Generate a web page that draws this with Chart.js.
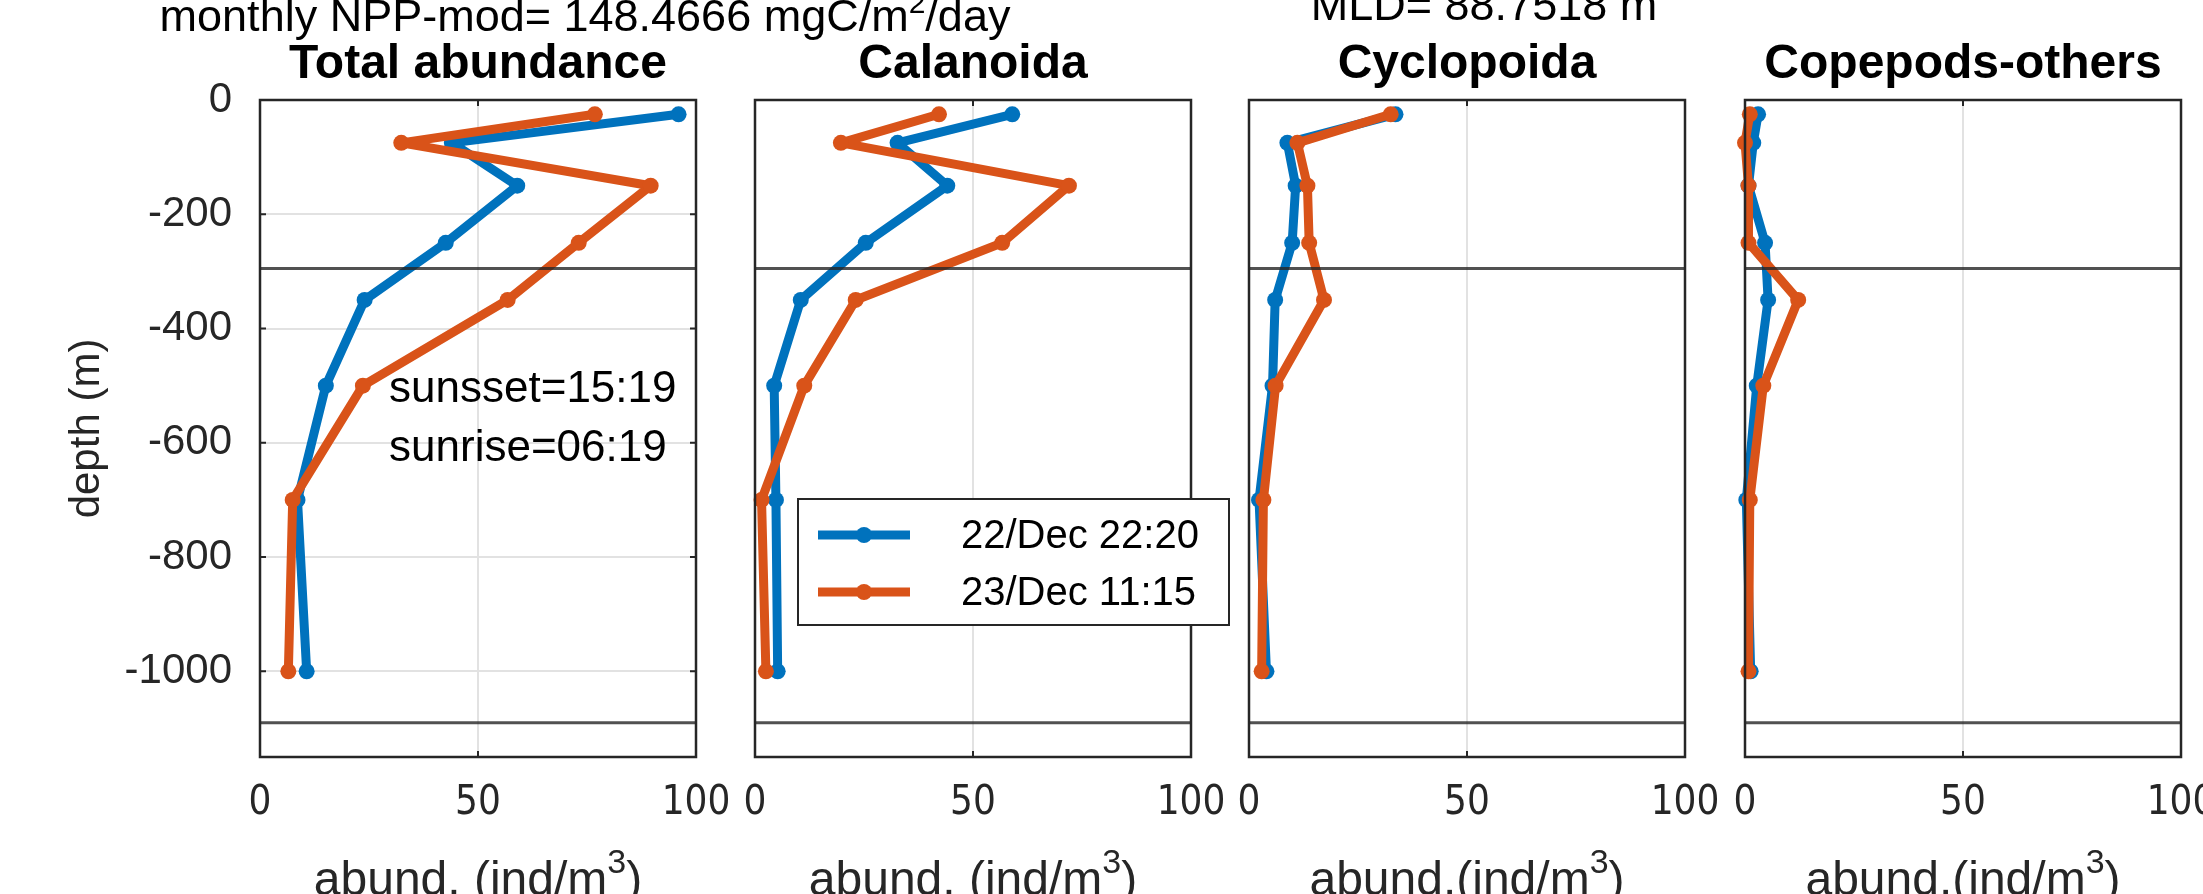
<!DOCTYPE html>
<html>
<head>
<meta charset="utf-8">
<script src="https://cdn.jsdelivr.net/npm/chart.js@4.4.1/dist/chart.umd.min.js"></script>
<style>
  html, body { margin: 0; padding: 0; background: #fff; overflow: hidden; }
  #wrap { position: relative; width: 2203px; height: 894px; overflow: hidden; background: #fff; }
  #wrap canvas { position: absolute; left: 0; top: 0; }
</style>
</head>
<body>
<div id="wrap">
  <canvas id="panel0" width="2300" height="894"></canvas>
  <canvas id="panel1" width="2300" height="894"></canvas>
  <canvas id="panel2" width="2300" height="894"></canvas>
  <canvas id="panel3" width="2300" height="894"></canvas>
</div>
<script>
// ── Data ─────────────────────────────────────────────────────
const depths = [-25, -75, -150, -250, -350, -500, -700, -1000];
const seriesLabels = ['22/Dec 22:20', '23/Dec 11:15'];
const panelTitles = ['Total abundance', 'Calanoida', 'Cyclopoida', 'Copepods-others'];
const xLabelTexts = ['abund. (ind/m', 'abund. (ind/m', 'abund.(ind/m', 'abund.(ind/m'];

const totalDec22      = [96, 44, 59, 42.6, 24, 15.1, 8.6, 10.7];
const totalDec23      = [76.8, 32.4, 89.6, 73.1, 56.8, 23.6, 7.5, 6.5];
const calanoidaDec22  = [59, 32.7, 44.1, 25.4, 10.5, 4.4, 4.8, 5.2];
const calanoidaDec23  = [42.2, 19.7, 72, 56.7, 23.1, 11.3, 1.5, 2.5];
const cyclopoidaDec22 = [33.6, 8.8, 10.7, 9.9, 6, 5.4, 2.3, 4];
const cyclopoidaDec23 = [32.5, 11.1, 13.4, 13.8, 17.2, 6.1, 3.3, 2.9];
const othersDec22     = [3, 1.9, 0.8, 4.6, 5.3, 2.7, 0.3, 1.3];
const othersDec23     = [1.1, 0, 0.8, 0.8, 12.2, 4.2, 1.1, 0.8];

const xTicks = [0, 50, 100];
const yTicks = [-1000, -800, -600, -400, -200, 0];
const refDepths = [-295, -1090];

const nppText = ['monthly NPP-mod= 148.4666 mgC/m', '2', '/day'];
const mldText = 'MLD= 88.7518 m';
const sunLines = ['sunsset=15:19', 'sunrise=06:19'];

const panelSeries = [
  [totalDec22, totalDec23],
  [calanoidaDec22, calanoidaDec23],
  [cyclopoidaDec22, cyclopoidaDec23],
  [othersDec22, othersDec23],
];

// ── Look ─────────────────────────────────────────────────────
const COLORS = ['#0072BD', '#D95319'];
const FONT   = "'Liberation Sans', Arial, Helvetica, sans-serif";
const NARROW = "'Liberation Sans Narrow', 'DejaVu Sans Condensed', 'Liberation Sans', sans-serif";
const INK    = '#262626';

const CANVAS_W = 2300;
const CANVAS_H = 894;
const PANEL_LEFT = [260, 755, 1249, 1745];
const PANEL_W = 436;
const PLOT_BOTTOM = 757;

Chart.defaults.font.family = FONT;
Chart.defaults.color = INK;

// draws text pieces where every odd piece is a superscript
function drawSupText(ctx, parts, cx, baseline, size, supSize, rise) {
  const widths = parts.map((p, i) => {
    ctx.font = `${i % 2 ? supSize : size}px ${FONT}`;
    return ctx.measureText(p).width;
  });
  let x = cx - widths.reduce((a, b) => a + b, 0) / 2;
  ctx.textAlign = 'left';
  ctx.textBaseline = 'alphabetic';
  parts.forEach((p, i) => {
    ctx.font = `${i % 2 ? supSize : size}px ${FONT}`;
    ctx.fillText(p, x, i % 2 ? baseline - rise : baseline);
    x += widths[i];
  });
}

// ── Frame, reference lines, annotations ──────────────────────
const panelDecor = {
  id: 'panelDecor',
  afterDatasetsDraw(chart, args, opts) {
    const { ctx, chartArea: a, scales: { x, y } } = chart;
    ctx.save();
    ctx.strokeStyle = 'rgba(38,38,38,0.8)';
    ctx.lineWidth = 3;
    refDepths.forEach((d) => {
      const py = y.getPixelForValue(d);
      ctx.beginPath();
      ctx.moveTo(a.left, py);
      ctx.lineTo(a.right, py);
      ctx.stroke();
    });

    ctx.strokeStyle = INK;
    ctx.lineWidth = 2.5;
    ctx.strokeRect(a.left, a.top, a.right - a.left, a.bottom - a.top);

    // inward tick marks
    ctx.lineWidth = 2;
    const tl = 6;
    x.ticks.forEach((t) => {
      const px = x.getPixelForValue(t.value);
      ctx.beginPath();
      ctx.moveTo(px, a.bottom); ctx.lineTo(px, a.bottom - tl);
      ctx.moveTo(px, a.top);    ctx.lineTo(px, a.top + tl);
      ctx.stroke();
    });
    if (opts.yTickMarks) {
      y.ticks.forEach((t) => {
        const py = y.getPixelForValue(t.value);
        ctx.beginPath();
        ctx.moveTo(a.left, py);  ctx.lineTo(a.left + tl, py);
        ctx.moveTo(a.right, py); ctx.lineTo(a.right - tl, py);
        ctx.stroke();
      });
    }
    ctx.restore();
  },
  afterDraw(chart, args, opts) {
    const { ctx, chartArea: a, scales: { x } } = chart;
    ctx.save();
    ctx.fillStyle = INK;

    // x axis label with superscript (cut by the page bottom, as in the original)
    drawSupText(ctx, [opts.xLabel, '3', ')'], (a.left + a.right) / 2, 895, 48, 34, 22);

    if (opts.npp) {
      ctx.fillStyle = '#000';
      drawSupText(ctx, nppText, 585, 31, 45, 30, 18);
    }
    if (opts.mld) {
      ctx.fillStyle = '#000';
      ctx.font = `45px ${FONT}`;
      ctx.textAlign = 'center';
      ctx.textBaseline = 'alphabetic';
      ctx.fillText(mldText, 1484, 20);
    }
    if (opts.sun) {
      ctx.fillStyle = '#000';
      ctx.font = `44px ${FONT}`;
      ctx.textAlign = 'left';
      ctx.textBaseline = 'alphabetic';
      const tx = x.getPixelForValue(29.6);
      ctx.fillText(sunLines[0], tx, 402);
      ctx.fillText(sunLines[1], tx, 461);
    }
    if (opts.legend) {
      const lx = a.left + 43, ly = 499, lw = 431, lh = 126;
      ctx.fillStyle = '#fff';
      ctx.fillRect(lx, ly, lw, lh);
      ctx.strokeStyle = INK;
      ctx.lineWidth = 2;
      ctx.strokeRect(lx, ly, lw, lh);
      const rows = [ly + 36, ly + 93];
      chart.data.datasets
        .slice()
        .sort((p, q) => p.seriesIndex - q.seriesIndex)
        .forEach((ds, i) => {
          const ry = rows[i];
          ctx.strokeStyle = ds.borderColor;
          ctx.lineWidth = 9;
          ctx.beginPath();
          ctx.moveTo(lx + 20, ry);
          ctx.lineTo(lx + 112, ry);
          ctx.stroke();
          ctx.fillStyle = ds.borderColor;
          ctx.beginPath();
          ctx.arc(lx + 66, ry, 8, 0, Math.PI * 2);
          ctx.fill();
          ctx.fillStyle = '#000';
          ctx.font = `40px ${FONT}`;
          ctx.textAlign = 'left';
          ctx.textBaseline = 'middle';
          ctx.fillText(ds.label, lx + 163, ry + 2);
        });
    }
    ctx.restore();
  },
};

// ── One panel ────────────────────────────────────────────────
function createPanel(i) {
  const canvas = document.getElementById('panel' + i);
  const first = i === 0;
  const left = PANEL_LEFT[i];

  const datasets = panelSeries[i].map((values, s) => ({
    label: seriesLabels[s],
    seriesIndex: s,
    data: depths.map((d, k) => ({ x: values[k], y: d })),
    showLine: true,
    borderColor: COLORS[s],
    backgroundColor: COLORS[s],
    borderWidth: 9,
    borderJoinStyle: 'round',
    borderCapStyle: 'round',
    pointRadius: 8,
    pointHoverRadius: 8,
    pointBorderWidth: 0,
    tension: 0,
    clip: false,
    order: s === 1 ? 0 : 1,
  }));

  return new Chart(canvas.getContext('2d'), {
    type: 'scatter',
    data: { datasets },
    options: {
      responsive: false,
      animation: false,
      events: [],
      layout: {
        padding: { left: first ? 0 : left, right: CANVAS_W - left - PANEL_W, top: 0, bottom: 0 },
      },
      plugins: {
        legend: { display: false },
        tooltip: { enabled: false },
        title: {
          display: true,
          text: panelTitles[i],
          fullSize: false,
          color: '#000',
          font: { family: FONT, size: 48, weight: 'bold' },
          padding: { top: 36, bottom: 6.4 },
        },
        panelDecor: {
          xLabel: xLabelTexts[i],
          yTickMarks: first,
          npp: first,
          sun: first,
          legend: i === 1,
          mld: i === 2,
        },
      },
      scales: {
        x: {
          type: 'linear',
          min: 0,
          max: 100,
          afterBuildTicks: (axis) => { axis.ticks = xTicks.map((v) => ({ value: v })); },
          afterFit: (axis) => { axis.height = CANVAS_H - PLOT_BOTTOM; },
          border: { display: false },
          grid: { color: '#e2e2e2', lineWidth: 2, drawTicks: false },
          ticks: {
            color: INK,
            font: { family: NARROW, size: 40 },
            padding: 23,
            maxRotation: 0,
            autoSkip: false,
            callback: (v) => String(v),
          },
        },
        y: {
          type: 'linear',
          display: first,
          min: -1150,
          max: 0,
          afterBuildTicks: (axis) => { axis.ticks = yTicks.map((v) => ({ value: v })); },
          afterFit: (axis) => { axis.width = first ? PANEL_LEFT[0] : 0; },
          border: { display: false },
          grid: { color: '#e2e2e2', lineWidth: 2, drawTicks: false },
          ticks: {
            color: INK,
            font: { family: FONT, size: 42 },
            padding: 28,
            autoSkip: false,
            callback: (v) => String(v),
          },
          title: {
            display: true,
            text: 'depth (m)',
            color: INK,
            font: { family: FONT, size: 42 },
            padding: { top: 62, bottom: 0 },
          },
        },
      },
    },
    plugins: [panelDecor],
  });
}

panelSeries.forEach((_, i) => createPanel(i));
</script>
</body>
</html>
